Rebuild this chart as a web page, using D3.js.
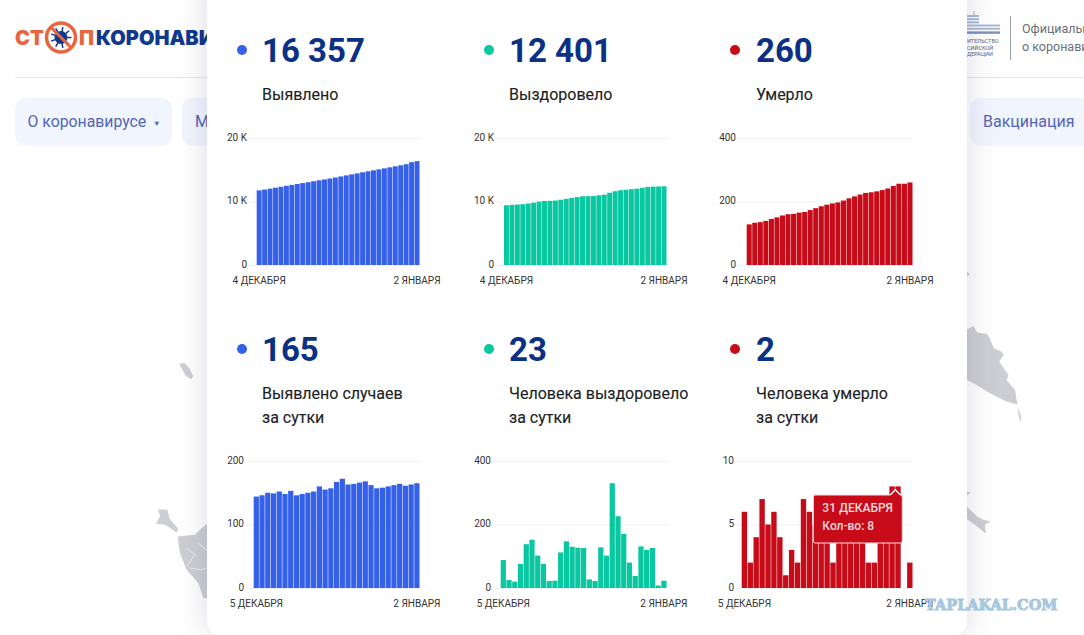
<!DOCTYPE html>
<html>
<head>
<meta charset="utf-8">
<script src="https://d3js.org/d3.v7.min.js"></script>
<style>
html, body { margin: 0; padding: 0; background: #fff; overflow: hidden; }
svg { display: block; font-family: Roboto, sans-serif; }
</style>
</head>
<body>
<div id="chart-area"></div>
<script>
var width = 1084, height = 635;

// dates under the charts
var days30 = ["4 ДЕКАБРЯ","5 ДЕКАБРЯ","6 ДЕКАБРЯ","7 ДЕКАБРЯ","8 ДЕКАБРЯ","9 ДЕКАБРЯ","10 ДЕКАБРЯ","11 ДЕКАБРЯ","12 ДЕКАБРЯ","13 ДЕКАБРЯ","14 ДЕКАБРЯ","15 ДЕКАБРЯ","16 ДЕКАБРЯ","17 ДЕКАБРЯ","18 ДЕКАБРЯ","19 ДЕКАБРЯ","20 ДЕКАБРЯ","21 ДЕКАБРЯ","22 ДЕКАБРЯ","23 ДЕКАБРЯ","24 ДЕКАБРЯ","25 ДЕКАБРЯ","26 ДЕКАБРЯ","27 ДЕКАБРЯ","28 ДЕКАБРЯ","29 ДЕКАБРЯ","30 ДЕКАБРЯ","31 ДЕКАБРЯ","1 ЯНВАРЯ","2 ЯНВАРЯ"];
var days29 = days30.slice(1);

// values
var detected = [11750,11880,12020,12170,12320,12470,12620,12760,12900,13040,13190,13340,13480,13620,13780,13950,14110,14270,14430,14600,14760,14910,15060,15220,15380,15540,15700,15870,16190,16357];
var recovered = [9400,9480,9520,9580,9680,9820,9980,10080,10100,10150,10280,10420,10560,10700,10820,10840,10860,10980,11080,11380,11620,11780,11860,11940,12020,12160,12300,12340,12360,12401];
var died = [128,133,135,139,145,150,156,160,161,165,167,173,179,185,190,194,197,203,210,216,222,227,229,232,236,241,249,256,256,260];
var detectedDay = [144,146,150,149,152,148,153,146,148,150,152,160,155,157,167,172,163,164,166,168,162,157,158,160,162,164,161,163,165];
var recoveredDay = [88,25,20,76,138,152,102,76,22,23,112,147,130,127,126,27,22,128,102,330,226,170,80,38,131,120,126,8,23];
var diedDay = [6,2,4,7,5,6,4,1,3,2,7,6,5,4,4,2,4,5,4,5,4,2,2,5,6,8,8,0,2];

// tick labels
var ticks20k = [0,10000,20000], labels20k = ["0","10 K","20 K"];
var ticks400 = [0,200,400], labels400 = ["0","200","400"];
var ticks200 = [0,100,200], labels200 = ["0","100","200"];
var ticks10 = [0,5,10], labels10 = ["0","5","10"];

var blue = "#3560ea", teal = "#09c7a1", red = "#c70b18", navy = "#0a3184";

var svg = d3.select("#chart-area").append("svg")
    .attr("width", width).attr("height", height);

var defs = svg.append("defs");
defs.append("filter").attr("id", "cardShadow")
    .attr("x", "-15%").attr("y", "-15%").attr("width", "130%").attr("height", "130%")
    .append("feDropShadow")
    .attr("dx", 0).attr("dy", 0).attr("stdDeviation", 16)
    .attr("flood-color", "#30364a").attr("flood-opacity", 0.14);

// map pieces behind the card
var map = svg.append("g").attr("fill", "#cdced3");
map.append("path").attr("transform", "translate(900,260) scale(0.333)")
    .attr("d", "M190,215L220,198L232,218L262,222L270,237L282,266L305,275L311,286L298,305L318,335L326,345L320,360L345,390L353,435L320,425L270,400L230,375L190,355Z");
map.append("path").attr("transform", "translate(900,260) scale(0.333)")
    .attr("d", "M353,440L364,470L362,487L356,465Z");
map.append("path").attr("transform", "translate(900,260) scale(0.333)")
    .attr("d", "M190,725L205,745L232,770L250,780L272,785L255,795L258,822L225,795L190,770Z");
map.append("path").attr("transform", "translate(900,260) scale(0.333)")
    .attr("d", "M190,692L212,698L203,706L190,705Z");
map.append("path").attr("transform", "translate(900,260) scale(0.333)")
    .attr("d", "M190,28L210,42L204,48L190,40Z");
map.append("path").attr("transform", "translate(130,340) scale(0.333)")
    .attr("d", "M148,72L163,68L178,85L190,108L184,118L168,108Z");
map.append("path").attr("transform", "translate(130,340) scale(0.333)")
    .attr("d", "M85,508L112,510L120,538L144,565L140,578L122,565L105,555L78,552L90,530Z");
map.append("path").attr("transform", "translate(130,340) scale(0.333)")
    .attr("d", "M143,590L195,585L215,565L240,545L240,775L220,775L205,730L170,690L150,640Z");
map.append("path").attr("transform", "translate(130,340) scale(0.333)")
    .attr("fill", "none").attr("stroke", "#eeeef0").attr("stroke-width", 3)
    .attr("d", "M170,625L195,645L170,680M180,685L215,690L240,680M205,610L240,640");

// top line of the header
svg.append("line").attr("x1", 15).attr("x2", width).attr("y1", 77.5).attr("y2", 77.5)
    .attr("stroke", "#e4e5e8");

// logo
var logo = svg.append("g").attr("font-family", "Inter, sans-serif").attr("font-weight", 900).attr("font-size", 20);
logo.append("text").attr("x", 15).attr("y", 44.5).attr("fill", "#e8663f").text("СТ");
logo.append("text").attr("x", 79).attr("y", 44.5).attr("fill", "#e8663f").text("П");
logo.append("text").attr("x", 96).attr("y", 44.5).attr("fill", "#10388c").text("КОРОНАВИРУС");
var virus = svg.append("g").attr("transform", "translate(61,37.5)");
virus.append("circle").attr("r", 14.5).attr("fill", "#fff").attr("stroke", "#e8663f").attr("stroke-width", 3.5);
virus.append("circle").attr("r", 6.5).attr("fill", "#10388c");
d3.range(0, 360, 40).forEach(function (a) {
    virus.append("line").attr("x2", 10.5).attr("transform", "rotate(" + a + ")")
        .attr("stroke", "#10388c").attr("stroke-width", 1.5);
});
virus.append("line").attr("x1", -10).attr("y1", -10).attr("x2", 10).attr("y2", 10)
    .attr("stroke", "#e8663f").attr("stroke-width", 3);

// nav buttons
var nav = svg.append("g").attr("font-size", 16).attr("fill", "#5266b8");
nav.append("rect").attr("x", 15).attr("y", 98).attr("width", 157).attr("height", 48).attr("rx", 11).attr("fill", "#f1f5fd");
nav.append("rect").attr("x", 182).attr("y", 98).attr("width", 100).attr("height", 48).attr("rx", 11).attr("fill", "#f1f5fd");
nav.append("rect").attr("x", 970).attr("y", 98).attr("width", 150).attr("height", 48).attr("rx", 11).attr("fill", "#f1f5fd");
nav.append("text").attr("x", 27.5).attr("y", 127).attr("font-size", 15.8).text("О коронавирусе");
nav.append("text").attr("x", 153).attr("y", 126).attr("font-size", 7.5).text("▼");
nav.append("text").attr("x", 195).attr("y", 127).text("М");
nav.append("text").attr("x", 983).attr("y", 127).text("Вакцинация");

// government logo on the right
var gov = svg.append("g");
gov.append("line").attr("x1", 974).attr("x2", 974).attr("y1", 11).attr("y2", 16)
    .attr("stroke", "#9db0cf").attr("stroke-width", 1);
d3.range(0, 6).forEach(function (i) {
    gov.append("line").attr("x1", 967).attr("x2", i < 3 ? 979 : 1000)
        .attr("y1", 16 + i * 3.2).attr("y2", 16 + i * 3.2)
        .attr("stroke", "#a9bad6").attr("stroke-width", 2);
});
gov.append("line").attr("x1", 967).attr("x2", 1000).attr("y1", 33).attr("y2", 33)
    .attr("stroke", "#6f86b0").attr("stroke-width", 1.5);
gov.selectAll("text.gov").data(["ИТЕЛЬСТВО", "СИЙСКОЙ", "ДЕРАЦИИ"]).enter().append("text")
    .attr("class", "gov").attr("x", 967).attr("y", function (d, i) { return 43 + i * 6.5; })
    .attr("font-size", 5.5).attr("fill", "#667").text(function (d) { return d; });
gov.append("line").attr("x1", 1010.5).attr("x2", 1010.5).attr("y1", 16).attr("y2", 60).attr("stroke", "#9aa0a8");
gov.append("text").attr("x", 1022).attr("y", 33).attr("font-size", 12.5).attr("fill", "#6a7078").text("Официальный");
gov.append("text").attr("x", 1022).attr("y", 51).attr("font-size", 12.5).attr("fill", "#6a7078").text("о коронавирусе");

// white card
svg.append("rect").attr("x", 207).attr("y", -30).attr("width", 760).attr("height", 666).attr("rx", 16)
    .attr("fill", "#fff").attr("filter", "url(#cardShadow)");

// one stat block with its bar chart
function drawPanel(p) {
    var g = svg.append("g");

    g.append("circle").attr("cx", p.dotX).attr("cy", p.top + 50).attr("r", 5).attr("fill", p.color);
    g.append("text").attr("x", p.textX).attr("y", p.top + 61.5)
        .attr("font-size", 33).attr("font-weight", 700)
        .attr("fill", navy).text(p.total);
    p.label.forEach(function (line, i) {
        g.append("text").attr("x", p.textX).attr("y", p.top + 99.5 + i * 24)
            .attr("font-size", 16).attr("font-weight", 400)
            .attr("stroke", "#1c1f26").attr("stroke-width", 0.15)
            .attr("fill", "#1c1f26").text(line);
    });

    var x = d3.scaleBand().domain(p.days).range([p.barLeft, p.barRight]).paddingInner(0.09).paddingOuter(0);
    var y = d3.scaleLinear().domain([0, p.ticks[2]]).range([p.zero, p.zero - 127]);

    var yAxis = g.append("g")
        .attr("transform", "translate(" + p.axisLeft + ",0)")
        .call(d3.axisLeft(y).tickValues(p.ticks)
            .tickFormat(function (d, i) { return p.tickLabels[i]; })
            .tickSize(-(p.axisRight - p.axisLeft)).tickPadding(1));
    yAxis.select(".domain").remove();
    yAxis.selectAll("line").attr("stroke", "#f0f1f3");
    yAxis.selectAll("text").attr("font-family", "Roboto, sans-serif").attr("font-size", 10)
        .attr("fill", "#333").attr("dy", "0.22em");

    g.selectAll(".bar").data(p.values).enter().append("rect")
        .attr("class", "bar")
        .attr("x", function (d, i) { return x(p.days[i]); })
        .attr("width", x.bandwidth())
        .attr("y", function (d) { return y(d); })
        .attr("height", function (d) { return p.zero - y(d); })
        .attr("fill", p.color);

    var xAxis = g.append("g")
        .attr("transform", "translate(0," + p.zero + ")")
        .call(d3.axisBottom(x).tickValues([p.days[0], p.days[p.days.length - 1]]).tickSize(0).tickPadding(12));
    xAxis.select(".domain").remove();
    xAxis.selectAll("text").attr("font-family", "Roboto, sans-serif").attr("font-size", 10).attr("fill", "#333");

    return {x: x, y: y};
}

var row1 = {top: 0, zero: 265}, row2 = {top: 299, zero: 588};

drawPanel({top: row1.top, zero: row1.zero, dotX: 242, textX: 262, color: blue, total: "16 357", label: ["Выявлено"],
    days: days30, values: detected, ticks: ticks20k, tickLabels: labels20k, barLeft: 256.7, barRight: 419.5, axisLeft: 248, axisRight: 420});
drawPanel({top: row1.top, zero: row1.zero, dotX: 489, textX: 509, color: teal, total: "12 401", label: ["Выздоровело"],
    days: days30, values: recovered, ticks: ticks20k, tickLabels: labels20k, barLeft: 504, barRight: 666.5, axisLeft: 495, axisRight: 668});
drawPanel({top: row1.top, zero: row1.zero, dotX: 735, textX: 756, color: red, total: "260", label: ["Умерло"],
    days: days30, values: died, ticks: ticks400, tickLabels: labels400, barLeft: 746.7, barRight: 912.5, axisLeft: 737, axisRight: 913});
drawPanel({top: row2.top, zero: row2.zero, dotX: 242, textX: 262, color: blue, total: "165", label: ["Выявлено случаев", "за сутки"],
    days: days29, values: detectedDay, ticks: ticks200, tickLabels: labels200, barLeft: 253.7, barRight: 419.5, axisLeft: 245, axisRight: 420});
drawPanel({top: row2.top, zero: row2.zero, dotX: 489, textX: 509, color: teal, total: "23", label: ["Человека выздоровело", "за сутки"],
    days: days29, values: recoveredDay, ticks: ticks400, tickLabels: labels400, barLeft: 500.7, barRight: 666.5, axisLeft: 492, axisRight: 668});
var lastPanel = drawPanel({top: row2.top, zero: row2.zero, dotX: 735, textX: 756, color: red, total: "2", label: ["Человека умерло", "за сутки"],
    days: days29, values: diedDay, ticks: ticks10, tickLabels: labels10, barLeft: 741.7, barRight: 912.5, axisLeft: 735, axisRight: 913});

// tooltip on the last chart
var tipX = lastPanel.x("31 ДЕКАБРЯ");
var tip = svg.append("g").attr("transform", "translate(" + tipX + ",495)");
tip.append("path").attr("d", "M-6,1L0,-5L6,1").attr("fill", red).attr("stroke", "#fff").attr("stroke-width", 1.6);
tip.append("rect").attr("x", -82).attr("y", 0).attr("width", 89).attr("height", 48).attr("rx", 2)
    .attr("fill", red).attr("stroke", "#f8dfe0").attr("stroke-width", 1);
tip.append("path").attr("d", "M-5,1L0,-4L5,1Z").attr("fill", red);
tip.append("text").attr("x", -73).attr("y", 17).attr("font-size", 12).attr("font-weight", 500).attr("fill", "#fbdcdc").text("31 ДЕКАБРЯ");
tip.append("text").attr("x", -73).attr("y", 35).attr("font-size", 12).attr("font-weight", 500).attr("fill", "#fbdcdc").text("Кол-во: 8");

// watermark
svg.append("text").attr("x", 925).attr("y", 610)
    .attr("font-family", "'DejaVu Serif', serif").attr("font-weight", 700).attr("font-size", 14.5)
    .attr("stroke", "#a6c8dd").attr("stroke-width", 0.9)
    .attr("fill", "#a6c8dd").text("TAPLAKAL.COM");
</script>
</body>
</html>
